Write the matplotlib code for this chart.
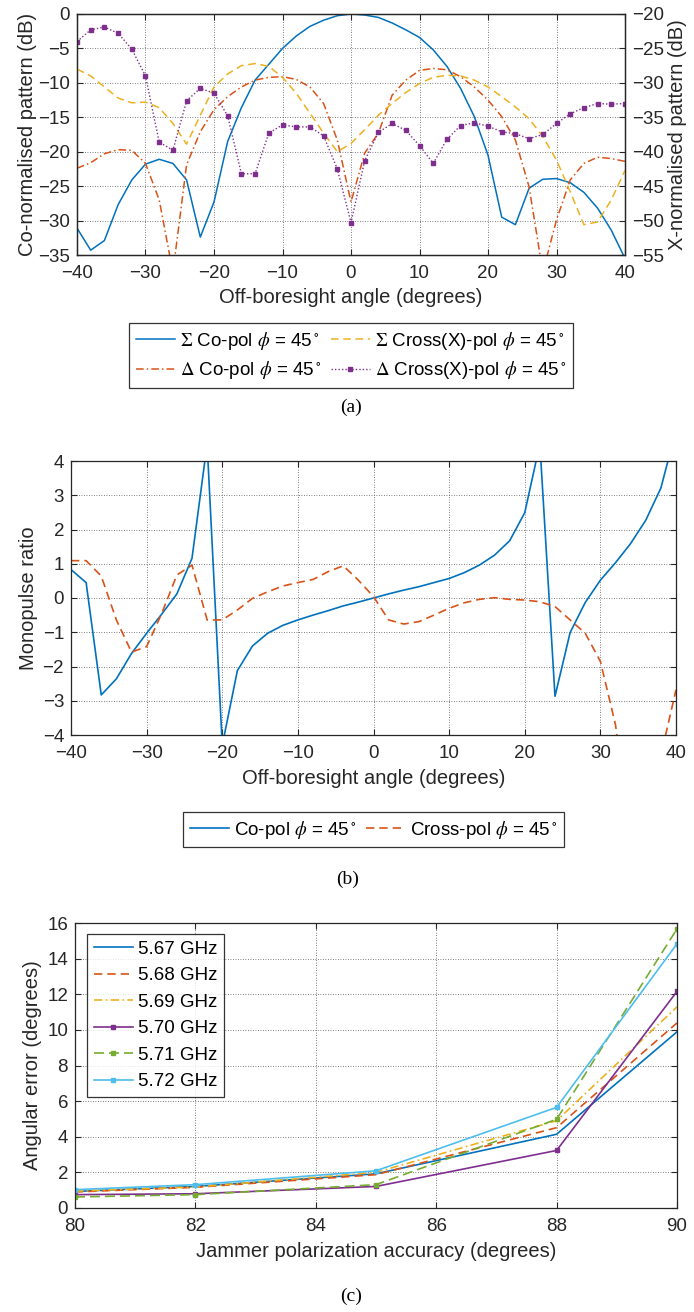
import matplotlib
matplotlib.use("Agg")
import matplotlib.pyplot as plt

plt.rcParams["font.family"] = ["Liberation Sans", "DejaVu Sans"]
plt.rcParams["mathtext.fontset"] = "stix"

# MATLAB default line colours
C_BLUE = "#0072BD"
C_ORANGE = "#D95319"
C_YELLOW = "#EDB120"
C_PURPLE = "#7E2F8E"
C_GREEN = "#77AC30"
C_CYAN = "#4DBEEE"
TXT = "#262626"

# (a) radiation patterns, sampled every 2 degrees
angle = list(range(-40, 41, 2))
sum_co = [-31.1, -34.3, -32.9, -27.7, -24.1, -21.8, -21.1, -21.7, -24.1, -32.4,
          -27.3, -18.5, -13.6, -9.6, -7.3, -5.0, -3.2, -1.8, -0.9, -0.25,
          0.0, -0.15, -0.5, -1.3, -2.3, -3.4, -5.2, -7.6, -10.8, -14.9,
          -20.5, -29.5, -30.6, -25.3, -24.0, -23.9, -24.5, -25.9, -28.2, -31.4, -35.5]
sum_x = [-28.0, -29.0, -30.6, -32.2, -32.9, -32.8, -33.6, -35.9, -38.9, -34.7,
         -30.6, -28.7, -27.5, -27.2, -27.6, -29.2, -31.5, -34.4, -37.3, -40.0,
         -38.8, -36.8, -34.7, -33.0, -31.4, -30.1, -29.2, -28.9, -29.0, -29.6,
         -30.6, -32.0, -33.5, -35.2, -37.8, -41.2, -45.8, -50.6, -50.2, -47.0, -42.7]
diff_co = [-22.4, -21.6, -20.3, -19.7, -19.8, -21.7, -27.0, -37.5, -21.9, -17.1,
           -13.9, -12.0, -10.6, -9.6, -9.2, -9.1, -9.5, -10.6, -13.0, -18.3,
           -27.3, -20.2, -17.3, -11.8, -9.6, -8.2, -7.9, -8.1, -9.1, -10.6,
           -12.5, -14.9, -18.3, -25.1, -37.5, -29.9, -24.1, -21.7, -20.8, -21.0, -21.4]
diff_x = [-24.0, -22.3, -21.9, -22.8, -25.1, -29.0, -38.6, -39.8, -32.6, -30.8,
          -31.5, -34.8, -43.2, -43.2, -37.3, -36.1, -36.4, -36.4, -37.7, -42.5,
          -50.3, -41.3, -37.2, -35.9, -36.9, -39.1, -41.7, -38.2, -36.2, -35.8,
          -36.3, -37.1, -37.4, -38.1, -37.5, -35.9, -34.5, -33.6, -33.0, -33.1, -33.0]

# (b) monopulse ratio
ratio_co = [0.83, 0.45, -2.83, -2.36, -1.62, -1.03, -0.47, 0.12, 1.16, 4.5,
            -4.3, -2.12, -1.40, -1.03, -0.80, -0.64, -0.50, -0.37, -0.23, -0.12,
            0.0, 0.12, 0.23, 0.33, 0.45, 0.57, 0.74, 0.96, 1.25, 1.67,
            2.49, 4.5, -2.87, -1.01, -0.13, 0.52, 1.03, 1.59, 2.27, 3.21, 4.9]
ratio_x = [1.09, 1.09, 0.64, -0.64, -1.58, -1.42, -0.45, 0.67, 0.96, -0.64,
           -0.64, -0.35, -0.01, 0.18, 0.35, 0.45, 0.54, 0.77, 0.94, 0.52,
           0.04, -0.64, -0.76, -0.69, -0.50, -0.30, -0.14, -0.04, 0.01, -0.04,
           -0.06, -0.11, -0.25, -0.64, -1.03, -1.85, -3.7, -7.0, -9.0, -4.6, -2.68]

# (c) angular error vs jammer polarization accuracy
accuracy = [80, 82, 85, 88, 90]
freq_labels = ["5.67 GHz", "5.68 GHz", "5.69 GHz", "5.70 GHz", "5.71 GHz", "5.72 GHz"]
err_567 = [0.93, 1.21, 1.92, 4.14, 9.89]
err_568 = [0.90, 1.16, 1.87, 4.51, 10.39]
err_569 = [0.95, 1.18, 2.00, 4.90, 11.29]
err_570 = [0.75, 0.80, 1.21, 3.23, 12.16]
err_571 = [0.62, 0.75, 1.31, 4.98, 15.67]
err_572 = [1.03, 1.31, 2.09, 5.65, 14.83]

FS_TICK = 13.5
FS_LABEL = 14.5
FS_LEG = 13.5
FS_CAP = 14


def style_axes(ax, right_ticks=True):
    ax.grid(True, linestyle=(0, (1, 2)), color="#555555", linewidth=0.6)
    ax.tick_params(direction="in", length=4, width=0.8, colors=TXT, labelsize=FS_TICK,
                   top=True, right=right_ticks, pad=5)
    ax.tick_params(axis="x", pad=7.5)
    for sp in ax.spines.values():
        sp.set_color(TXT)
        sp.set_linewidth(0.9)
    ax.set_axisbelow(True)


def frame_legend(leg):
    leg.get_frame().set_linewidth(0.9)
    leg.get_frame().set_edgecolor("black")


LEG_KW = dict(fontsize=FS_LEG, frameon=True, fancybox=False, borderaxespad=0,
              handlelength=2.1, handletextpad=0.25, borderpad=0.35)

W, H = 694, 1312
fig = plt.figure(figsize=(W / 100, H / 100), dpi=100)


def box(left, top, right, bottom):
    return [left / W, 1 - bottom / H, (right - left) / W, (bottom - top) / H]


# ---- (a) ----
ax = fig.add_axes(box(77, 14, 625, 255))
style_axes(ax, right_ticks=False)
ax.plot(angle, sum_co, color=C_BLUE, lw=1.1, label=r"$\Sigma$ Co-pol $\phi$ = 45$^\circ$")
ax.plot(angle, diff_co, color=C_ORANGE, lw=1.1, ls=(0, (5, 2, 1, 2)),
        label=r"$\Delta$ Co-pol $\phi$ = 45$^\circ$")
ax.set_xlim(-40, 40)
ax.set_ylim(-35, 0)
ax.set_xticks(range(-40, 41, 10))
ax.set_yticks(range(-35, 1, 5))
ax.set_xlabel("Off-boresight angle (degrees)", fontsize=FS_LABEL, color=TXT, labelpad=4)
ax.set_ylabel("Co-normalised pattern (dB)", fontsize=FS_LABEL, color=TXT, labelpad=1)

ax2 = ax.twinx()
ax2.plot(angle, sum_x, color=C_YELLOW, lw=1.1, ls=(0, (5, 3)),
         label=r"$\Sigma$ Cross(X)-pol $\phi$ = 45$^\circ$")
ax2.plot(angle, diff_x, color=C_PURPLE, lw=1.0, ls=(0, (1, 1.5)), marker="s", ms=2.5,
         label=r"$\Delta$ Cross(X)-pol $\phi$ = 45$^\circ$")
ax2.set_ylim(-55, -20)
ax2.set_yticks(range(-55, -19, 5))
ax2.tick_params(direction="in", length=4, width=0.8, colors=TXT, labelsize=FS_TICK, pad=5)
ax2.set_ylabel("X-normalised pattern (dB)", fontsize=FS_LABEL, color=TXT, labelpad=3)
for sp in ax2.spines.values():
    sp.set_color(TXT)
    sp.set_linewidth(0.9)

h1, l1 = ax.get_legend_handles_labels()
h2, l2 = ax2.get_legend_handles_labels()
handles = [h1[0], h1[1], h2[0], h2[1]]
labels = [l1[0], l1[1], l2[0], l2[1]]
leg = fig.legend(handles, labels, ncol=2, loc="upper center",
                 bbox_to_anchor=(351 / W, 1 - 323 / H), columnspacing=0.5,
                 labelspacing=0.4, **LEG_KW)
frame_legend(leg)
fig.text(351 / W, 1 - 407 / H, "(a)", ha="center", va="center", fontsize=FS_CAP,
         family="Liberation Serif")

# ---- (b) ----
bx = fig.add_axes(box(71, 461, 676, 735))
style_axes(bx)
bx.plot(angle, ratio_co, color=C_BLUE, lw=1.2, label=r"Co-pol $\phi$ = 45$^\circ$")
bx.plot(angle, ratio_x, color=C_ORANGE, lw=1.2, ls=(0, (5, 3)),
        label=r"Cross-pol $\phi$ = 45$^\circ$")
bx.set_xlim(-40, 40)
bx.set_ylim(-4, 4)
bx.set_xticks(range(-40, 41, 10))
bx.set_yticks(range(-4, 5))
bx.set_xlabel("Off-boresight angle (degrees)", fontsize=FS_LABEL, color=TXT, labelpad=5)
bx.set_ylabel("Monopulse ratio", fontsize=FS_LABEL, color=TXT, labelpad=3)
leg = bx.legend(ncol=2, loc="upper center", bbox_to_anchor=(373.5 / W, 1 - 812 / H),
                bbox_transform=fig.transFigure, columnspacing=0.5, **LEG_KW)
frame_legend(leg)
fig.text(348 / W, 1 - 879 / H, "(b)", ha="center", va="center", fontsize=FS_CAP,
         family="Liberation Serif")

# ---- (c) ----
cx = fig.add_axes(box(75, 923, 677, 1208))
style_axes(cx)
series = [
    (err_567, C_BLUE, "-", None),
    (err_568, C_ORANGE, (0, (5, 3)), None),
    (err_569, C_YELLOW, (0, (5, 2, 1, 2)), None),
    (err_570, C_PURPLE, "-", "s"),
    (err_571, C_GREEN, (0, (6, 3)), "s"),
    (err_572, C_CYAN, "-", "s"),
]
for (vals, col, ls, mk), lab in zip(series, freq_labels):
    cx.plot(accuracy, vals, color=col, ls=ls, lw=1.2, marker=mk, ms=2.5, label=lab)
cx.set_xlim(80, 90)
cx.set_ylim(0, 16)
cx.set_xticks(range(80, 91, 2))
cx.set_yticks(range(0, 17, 2))
cx.set_xlabel("Jammer polarization accuracy (degrees)", fontsize=FS_LABEL, color=TXT,
              labelpad=5)
cx.set_ylabel("Angular error (degrees)", fontsize=FS_LABEL, color=TXT, labelpad=4)
leg = cx.legend(loc="upper left", bbox_to_anchor=(87 / W, 1 - 934 / H),
                bbox_transform=fig.transFigure, labelspacing=0.5, **LEG_KW)
frame_legend(leg)
fig.text(351 / W, 1 - 1296 / H, "(c)", ha="center", va="center", fontsize=FS_CAP,
         family="Liberation Serif")

fig.savefig("out.png", dpi=100, facecolor="white")
